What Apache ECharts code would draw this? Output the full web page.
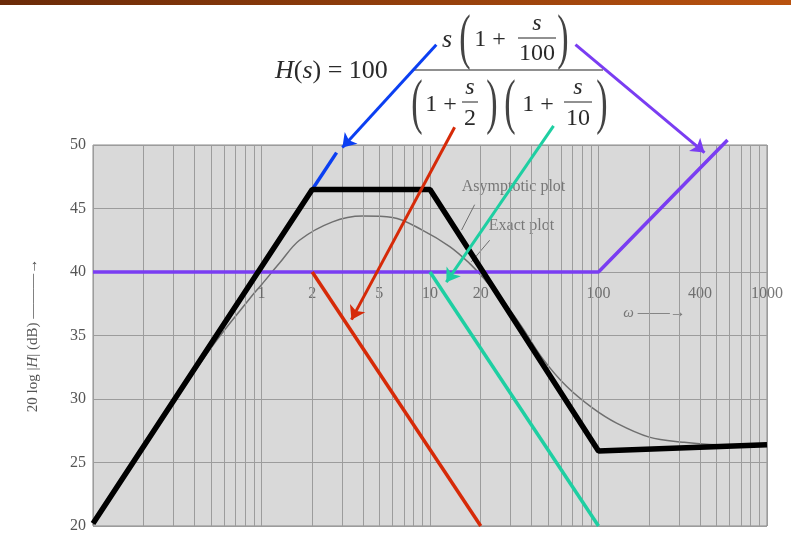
<!DOCTYPE html>
<html>
<head>
<meta charset="utf-8">
<script src="https://cdn.jsdelivr.net/npm/echarts@6/dist/echarts.min.js"></script>
<style>
  html, body { margin: 0; padding: 0; background: #fff; }
  #chart { width: 791px; height: 534px; }
</style>
</head>
<body>
<div id="chart"></div>
<script>
// values
const xTicks = [1, 2, 5, 10, 20, 100, 400, 1000];
const yTicks = [20, 25, 30, 35, 40, 45, 50];

const exactFreq = [0.1, 0.2, 0.5, 0.85, 1, 1.28, 1.68, 2.64, 3.98, 5.99, 9.0, 13.1, 17.1, 20.5, 26.9, 35, 46.5, 64.6, 92, 128, 200, 316, 500, 1000];
const exactDb   = [20.1, 26.2, 34.0, 37.9, 39.0, 40.7, 42.5, 43.95, 44.4, 44.3, 43.3, 42.0, 40.7, 39.6, 37.8, 35.7, 33.2, 31.0, 29.3, 28.1, 27.0, 26.6, 26.4, 26.4];

const asymFreq = [0.1, 2, 10, 100, 1000];
const asymDb   = [20.2, 46.5, 46.5, 25.9, 26.4];

const pole2Freq = [2, 20];
const pole2Db   = [40, 20];
const pole10Freq = [10, 100];
const pole10Db   = [40, 20];
const zero100Freq = [0.1, 100, 583];
const zero100Db   = [40, 40, 50.4];
const sTermFreq = [2, 2.79];
const sTermDb   = [46.5, 49.4];

// arrows from the formula terms to their lines: [fromFreq, fromDb, toFreq, toDb]
const arrowBlue   = [10.9, 57.9, 3.02, 49.8];
const arrowRed    = [14.0, 51.4, 3.42, 36.25];
const arrowTeal   = [54.1, 51.5, 12.5, 39.2];
const arrowPurple = [73, 57.9, 426, 49.4];
const leaderAsym  = [18.4, 45.3, 15.4, 43.3];
const leaderExact = [22.6, 42.5, 17.6, 40.8];

const serif = '"Liberation Serif", "DejaVu Serif", serif';
const zip = (xs, ys) => xs.map((x, i) => [x, ys[i]]);
const seg = a => ({ coords: [[a[0], a[1]], [a[2], a[3]]] });

// log paper minor grid: 2..9 in each decade
const minorGrid = [];
[0.1, 1, 10, 100].forEach(d => { for (let k = 2; k <= 9; k++) minorGrid.push(+(d * k).toPrecision(3)); });

const chart = echarts.init(document.getElementById('chart'));

function arrowSeries(color, a) {
  return {
    type: 'lines', coordinateSystem: 'cartesian2d', clip: false, z: 10,
    symbol: ['none', 'arrow'], symbolSize: 13,
    lineStyle: { color: color, width: 3, opacity: 1 },
    data: [seg(a)]
  };
}

function plainLine(name, data, color, width, z, extra) {
  return Object.assign({
    name: name, type: 'line', data: data, symbol: 'none', clip: false, z: z,
    lineStyle: { color: color, width: width }, silent: true
  }, extra || {});
}

const formulaTexts = [
  { x: 275, y: 71, align: 'left', text: '{i|H}{n|(}{i|s}{n|) = 100}', size: 26 },
  { x: 447, y: 40, text: 's', size: 26, italic: true },
  { x: 465, y: 41, text: '(', size: 62, paren: true },
  { x: 490, y: 40, text: '1 +', size: 24 },
  { x: 537, y: 24, text: 's', size: 24, italic: true },
  { x: 537, y: 54, text: '100', size: 24 },
  { x: 563, y: 41, text: ')', size: 62, paren: true },
  { x: 417, y: 106, text: '(', size: 62, paren: true },
  { x: 441, y: 105, text: '1 +', size: 24 },
  { x: 470, y: 88, text: 's', size: 24, italic: true },
  { x: 470, y: 119, text: '2', size: 24 },
  { x: 492, y: 106, text: ')', size: 62, paren: true },
  { x: 510, y: 106, text: '(', size: 62, paren: true },
  { x: 538, y: 105, text: '1 +', size: 24 },
  { x: 578, y: 88, text: 's', size: 24, italic: true },
  { x: 578, y: 119, text: '10', size: 24 },
  { x: 602, y: 106, text: ')', size: 62, paren: true }
];

const graphics = [
  {
    type: 'rect', shape: { x: 0, y: 0, width: 791, height: 5 }, silent: true,
    style: { fill: new echarts.graphic.LinearGradient(0, 0, 1, 0, [
      { offset: 0, color: '#6a2a08' }, { offset: 1, color: '#b9520f' }]) }
  },
  { type: 'line', shape: { x1: 413, y1: 70, x2: 603, y2: 70 }, style: { stroke: '#222', lineWidth: 1.2 } },
  { type: 'line', shape: { x1: 518, y1: 38, x2: 556, y2: 38 }, style: { stroke: '#222', lineWidth: 1 } },
  { type: 'line', shape: { x1: 462, y1: 102, x2: 478, y2: 102 }, style: { stroke: '#222', lineWidth: 1 } },
  { type: 'line', shape: { x1: 564, y1: 102, x2: 592, y2: 102 }, style: { stroke: '#222', lineWidth: 1 } }
].concat(formulaTexts.map(t => ({
  type: 'text', x: t.x, y: t.y, silent: true, z: 5,
  scaleX: t.paren ? 0.55 : 1,
  style: {
    text: t.text, align: t.align || 'center', verticalAlign: 'middle',
    font: (t.italic ? 'italic ' : '') + t.size + 'px ' + serif, fill: t.paren ? '#444' : '#2a2a2a',
    rich: {
      i: { fontStyle: 'italic', fontSize: t.size, fontFamily: serif, fill: '#2a2a2a' },
      n: { fontSize: t.size, fontFamily: serif, fill: '#2a2a2a' }
    }
  }
})));

const option = {
  animation: false,
  backgroundColor: '#ffffff',
  grid: {
    left: 93, right: 24, top: 145, bottom: 7,
    show: true, backgroundColor: '#d9d9d9', borderColor: '#8a8a8a', borderWidth: 1
  },
  xAxis: {
    type: 'log', logBase: 10, min: 0.1, max: 1000,
    axisLine: { show: false }, axisTick: { show: false }, axisLabel: { show: false },
    splitLine: { show: true, lineStyle: { color: '#9c9c9c', width: 1 } }
  },
  yAxis: {
    type: 'value', min: 20, max: 50, interval: 5,
    axisLine: { show: false }, axisTick: { show: false },
    axisLabel: { margin: 7, fontFamily: serif, fontSize: 16, color: '#555' },
    splitLine: { show: true, lineStyle: { color: '#9c9c9c', width: 1 } },
    name: '20 log |{i|H}| (dB) ———→', nameLocation: 'middle', nameRotate: 90, nameGap: 52,
    nameTextStyle: {
      fontFamily: serif, fontSize: 15, color: '#555',
      rich: { i: { fontStyle: 'italic', fontFamily: serif, fontSize: 15, color: '#555' } }
    }
  },
  graphic: graphics,
  series: [
    {
      type: 'line', data: [], silent: true,
      markLine: {
        silent: true, symbol: 'none', label: { show: false },
        lineStyle: { color: '#9c9c9c', width: 1, type: 'solid' },
        data: minorGrid.map(v => ({ xAxis: v }))
      }
    },
    {
      type: 'scatter', silent: true, symbolSize: 1, itemStyle: { color: 'transparent' }, z: 3,
      data: xTicks.map(v => [v, 38.3]),
      label: { show: true, position: 'inside', formatter: p => String(p.value[0]),
               fontFamily: serif, fontSize: 16, color: '#555' }
    },
    {
      type: 'scatter', silent: true, symbolSize: 1, itemStyle: { color: 'transparent' }, z: 3,
      data: [
        { value: [31.3, 46.7], name: 'Asymptotic plot' },
        { value: [34.9, 43.64], name: 'Exact plot' },
        { value: [215, 36.8], name: '{i|ω} ——→' }
      ],
      label: { show: true, position: 'inside', formatter: p => p.name,
               fontFamily: serif, fontSize: 16, color: '#5e5e5e',
               rich: { i: { fontStyle: 'italic', fontFamily: serif, fontSize: 15, color: '#5e5e5e' } } }
    },
    plainLine('exact', zip(exactFreq, exactDb), '#6f6f6f', 1.5, 4, { smooth: 0.35 }),
    plainLine('zero100', zip(zero100Freq, zero100Db), '#7a3df2', 3.5, 5),
    plainLine('sTerm', zip(sTermFreq, sTermDb), '#0b3ff2', 3.5, 5),
    plainLine('asymptotic', zip(asymFreq, asymDb), '#000000', 5.5, 6),
    plainLine('pole2', zip(pole2Freq, pole2Db), '#d62a08', 3.5, 7),
    plainLine('pole10', zip(pole10Freq, pole10Db), '#1ecfa2', 3.5, 7),
    {
      type: 'lines', coordinateSystem: 'cartesian2d', clip: false, z: 4, symbol: 'none',
      lineStyle: { color: '#6f6f6f', width: 1, opacity: 1 },
      data: [seg(leaderAsym), seg(leaderExact)]
    },
    arrowSeries('#0b3ff2', arrowBlue),
    arrowSeries('#d62a08', arrowRed),
    arrowSeries('#1ecfa2', arrowTeal),
    arrowSeries('#7a3df2', arrowPurple)
  ]
};

chart.setOption(option);
</script>
</body>
</html>
